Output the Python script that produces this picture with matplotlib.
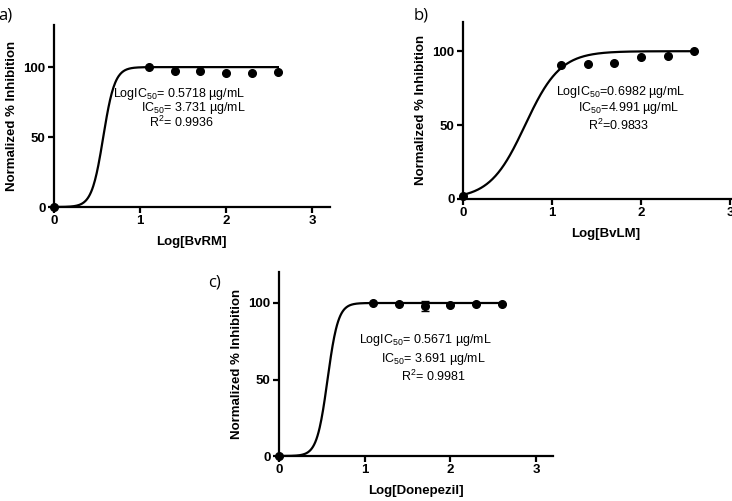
import numpy as np
import matplotlib
matplotlib.use("Agg")
import matplotlib.pyplot as plt

plt.rcParams['font.family'] = ['Liberation Sans', 'DejaVu Sans']
plt.rcParams['mathtext.fontset'] = 'custom'
plt.rcParams['mathtext.rm'] = 'Liberation Sans'
plt.rcParams['mathtext.it'] = 'Liberation Sans:italic'
plt.rcParams['mathtext.bf'] = 'Liberation Sans:bold'

# measured points (log conc, normalized % inhibition)
log_x = [0, 1.1, 1.4, 1.7, 2.0, 2.3, 2.6]
bvrm_y = [0, 100, 97.5, 97.5, 96, 95.5, 96.5]
bvlm_y = [2, 91, 91.5, 92, 96, 96.5, 100]
done_y = [0, 100, 99.5, 98, 99, 99.5, 99.5]
done_err = [0, 0, 0, 3.2, 0, 0, 0]

# fitted 4PL parameters (bottom, top, logIC50, hill slope)
fit_bvrm = (0, 100, 0.5718, 6.5)
fit_bvlm = (0, 100, 0.6982, 2.2)
fit_done = (0, 100, 0.5671, 7.0)

labels_bvrm = ["LogIC$_{50}$= 0.5718 \u00b5g/mL", "IC$_{50}$= 3.731 \u00b5g/mL", "R$^{2}$= 0.9936"]
labels_bvlm = ["LogIC$_{50}$=0.6982 \u00b5g/mL", "IC$_{50}$=4.991 \u00b5g/mL", "R$^{2}$=0.9833"]
labels_done = ["LogIC$_{50}$= 0.5671 \u00b5g/mL", "IC$_{50}$= 3.691 \u00b5g/mL", "R$^{2}$= 0.9981"]


def curve(p, x):
    b, t, lc, h = p
    return b + (t - b) / (1 + 10 ** ((lc - x) * h))


def panel(rect, ylim, y, fit, xlabel, texts, tpos, err=None):
    ax = fig.add_axes(rect)
    xs = np.linspace(0, 2.6, 400)
    ax.plot(xs, curve(fit, xs), color='black', lw=1.6)
    if err is not None:
        ax.errorbar(log_x, y, yerr=err, fmt='o', color='black', ms=5.5,
                    capsize=3, elinewidth=1.5, clip_on=False, zorder=5)
    else:
        ax.plot(log_x, y, 'o', color='black', ms=5.5, clip_on=False, zorder=5)
    ax.set_xlim(0, 3.2)
    ax.set_ylim(0, ylim)
    ax.set_xticks([0, 1, 2, 3])
    ax.set_yticks([0, 50, 100])
    for s in ['top', 'right']:
        ax.spines[s].set_visible(False)
    for s in ['left', 'bottom']:
        ax.spines[s].set_linewidth(1.6)
    ax.tick_params(width=1.6, length=4, labelsize=9.5, pad=2)
    for lb in ax.get_xticklabels() + ax.get_yticklabels():
        lb.set_fontweight('bold')
    ax.set_xlabel(xlabel, fontsize=9.5, fontweight='bold', labelpad=6)
    ax.set_ylabel("Normalized % Inhibition", fontsize=9.5, fontweight='bold', labelpad=4)
    for t, (px, py) in zip(texts, tpos):
        ax.text(px, py, t, fontsize=9, va='center', ha='left')
    return ax


fig = plt.figure(figsize=(7.32, 5.01), dpi=100)

panel([0.0738, 0.5868, 0.3764, 0.363], 130, bvrm_y, fit_bvrm, "Log[BvRM]",
      labels_bvrm, [(0.69, 80.5), (1.01, 70.6), (1.10, 60.6)])
panel([0.6325, 0.6028, 0.389, 0.354], 120, bvlm_y, fit_bvlm, "Log[BvLM]",
      labels_bvlm, [(1.04, 72.3), (1.29, 61.7), (1.41, 49.5)])
panel([0.381, 0.0898, 0.375, 0.3665], 120, done_y, fit_done, "Log[Donepezil]",
      labels_done, [(0.936, 75.8), (1.19, 63.2), (1.42, 51.9)], err=done_err)

fig.text(-0.003, 0.97, "a)", fontsize=12, va='center', ha='left', family='Open Sans')
fig.text(0.565, 0.97, "b)", fontsize=12, va='center', ha='left', family='Open Sans')
fig.text(0.285, 0.437, "c)", fontsize=12, va='center', ha='left', family='Open Sans')

fig.savefig("out.png", dpi=100)
